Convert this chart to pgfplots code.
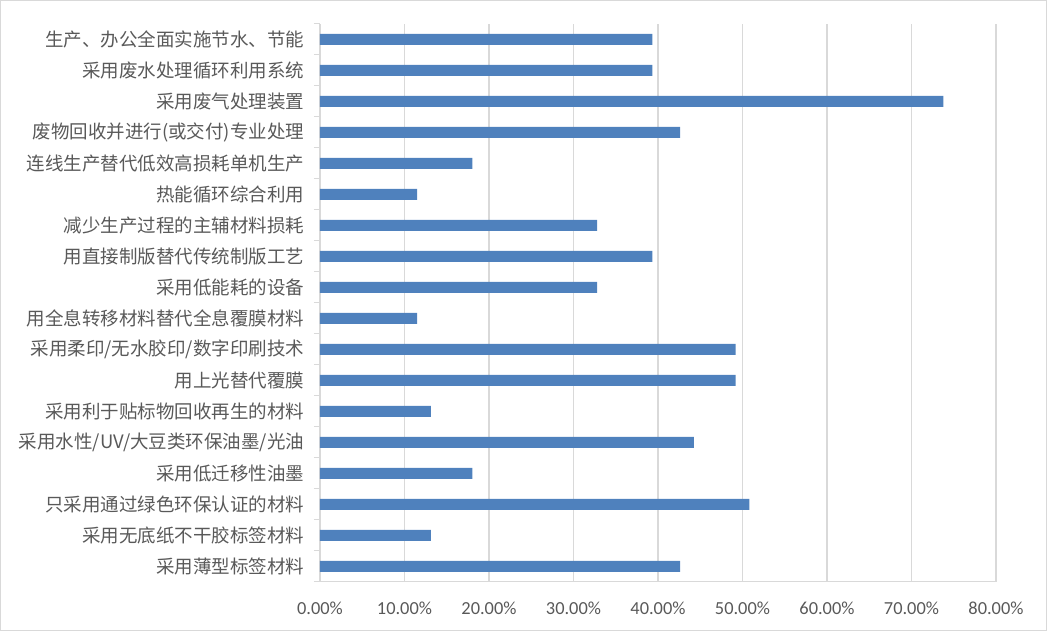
\documentclass[border=0pt]{standalone}
\usepackage{pgfplots}
\pgfplotsset{compat=1.18}
\usepackage{fontspec}
\setmainfont{Carlito}
\newfontfamily\cjk{Noto Sans CJK SC}
\definecolor{barblue}{HTML}{4F81BD}
\definecolor{gridgray}{HTML}{D9D9D9}
\definecolor{txtgray}{HTML}{595959}
\begin{document}
\begin{tikzpicture}
\useasboundingbox (-320pt,-49pt) rectangle (727pt,582pt);
\draw[gridgray, line width=1pt] (-319.5pt,-48.5pt) rectangle (726.5pt,581.5pt);
\begin{axis}[
  at={(0,0)}, anchor=south west,
  scale only axis,
  width=676pt, height=558pt,
  xbar, bar width=11pt,
  xmin=0, xmax=80,
  ymin=-0.5, ymax=17.5,
  axis x line*=bottom, axis y line*=left,
  axis line style={gridgray, line width=1pt, -},
  xtick={0,10,...,80},
  xticklabel={\pgfmathprintnumber[fixed,fixed zerofill,precision=2]{\tick}\%},
  /pgf/number format/assume math mode=true,
  xmajorgrids, grid style={gridgray, line width=1.3pt},
  major x tick style={draw=none},
  xticklabel style={font=\fontsize{18.4}{20}\selectfont, text=txtgray, yshift=-12pt},
  ytick={0,...,17},
  yticklabels={采用薄型标签材料,采用无底纸不干胶标签材料,只采用通过绿色环保认证的材料,采用低迁移性油墨,采用水性/UV/大豆类环保油墨/光油,采用利于贴标物回收再生的材料,用上光替代覆膜,采用柔印/无水胶印/数字印刷技术,用全息转移材料替代全息覆膜材料,采用低能耗的设备,用直接制版替代传统制版工艺,减少生产过程的主辅材料损耗,热能循环综合利用,连线生产替代低效高损耗单机生产,废物回收并进行(或交付)专业处理,采用废气处理装置,采用废水处理循环利用系统,生产、办公全面实施节水、节能},
  major y tick style={draw=none},
  minor ytick={-0.5,0.5,...,17.5},
  minor y tick style={gridgray, line width=1pt},
  minor tick length=6pt,
  tick align=outside,
  yticklabel style={font=\cjk\fontsize{18.5}{20}\selectfont, text=txtgray, xshift=-8pt},
]
\addplot[fill=barblue, draw=none] coordinates {
  (42.62,0) (13.11,1) (50.82,2) (18.03,3) (44.26,4) (13.11,5)
  (49.18,6) (49.18,7) (11.48,8) (32.79,9) (39.34,10) (32.79,11)
  (11.48,12) (18.03,13) (42.62,14) (73.77,15) (39.34,16) (39.34,17)
};
\end{axis}
\end{tikzpicture}
\end{document}
